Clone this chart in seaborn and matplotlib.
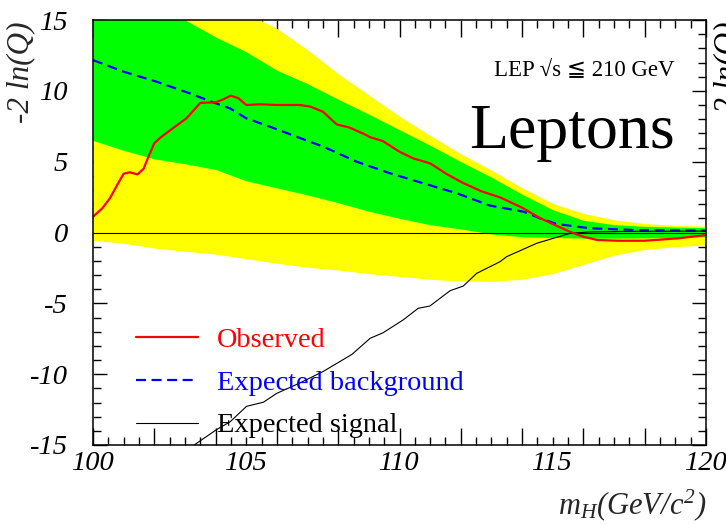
import numpy as np
import pandas as pd
import seaborn as sns
import matplotlib
matplotlib.use("Agg")
import matplotlib.pyplot as plt
from matplotlib.ticker import MultipleLocator, FuncFormatter

# ---------------- data ----------------
mass_band = [100, 101, 102, 103, 104, 105, 106, 107, 108, 109, 110,
             111, 112, 113, 114, 115, 116, 117, 118, 119, 120]
yellow_hi = [19.0, 18.5, 18.0, 17.0, 16.2, 15.5, 14.4, 12.9, 11.2, 9.7, 8.2,
             6.85, 5.55, 4.4, 3.15, 2.05, 1.35, 0.9, 0.63, 0.5, 0.45]
green_hi = [17.5, 17.0, 16.0, 15.0, 13.8, 12.75, 11.45, 10.5, 9.4, 8.35, 7.25,
            6.15, 5.0, 3.9, 2.7, 1.6, 0.86, 0.55, 0.44, 0.38, 0.34]
green_lo = [6.5, 5.8, 5.2, 4.85, 4.45, 3.65, 3.15, 2.65, 2.1, 1.5, 1.0,
            0.55, 0.25, -0.1, -0.3, -0.35, -0.4, -0.4, -0.38, -0.35, -0.3]
yellow_lo = [-0.55, -0.76, -1.1, -1.32, -1.52, -1.85, -2.17, -2.45, -2.65, -2.9, -3.1,
             -3.3, -3.42, -3.45, -3.3, -2.9, -2.25, -1.6, -1.2, -1.0, -0.88]

mass_obs = [100.0, 100.3, 100.55, 100.8, 101.0, 101.2, 101.45, 101.65, 101.8, 102.0,
            102.2, 102.6, 103.05, 103.5, 104.0, 104.2, 104.5, 104.75, 105.0, 105.45,
            106.0, 106.75, 107.1, 107.5, 107.95, 108.35, 108.8, 109.05, 109.45, 110.0,
            110.45, 111.0, 111.55, 112.1, 112.65, 113.3, 114.0, 114.6, 115.0, 115.55,
            116.0, 116.45, 117.1, 118.0, 119.1, 120.0]
observed = [1.12, 1.7, 2.41, 3.4, 4.15, 4.25, 4.1, 4.5, 5.3, 6.3,
            6.7, 7.35, 8.06, 9.15, 9.19, 9.35, 9.66, 9.47, 9.0, 9.05,
            9.0, 9.0, 8.88, 8.53, 7.63, 7.42, 7.0, 6.72, 6.46, 5.7,
            5.23, 4.88, 4.11, 3.47, 2.93, 2.46, 1.75, 1.0, 0.6, 0.06,
            -0.3, -0.53, -0.58, -0.58, -0.41, -0.18]

mass_bkg = [100.0, 101.0, 102.08, 103.16, 103.92, 104.47, 105.0, 105.77, 106.64, 107.51,
            108.6, 109.69, 110.78, 111.87, 112.95, 114.04, 114.68, 115.13, 116.2, 117.85, 120.0]
expected_bkg = [12.17, 11.35, 10.64, 9.82, 9.19, 8.76, 8.06, 7.47, 6.76, 6.06,
                5.0, 4.18, 3.47, 2.77, 1.9, 1.47, 0.92, 0.6, 0.3, 0.16, 0.13]

mass_sig = [102.9, 103.3, 104.04, 104.47, 105.01, 105.56, 105.99, 106.73, 107.51, 108.45,
            109.04, 109.47, 110.12, 110.61, 110.99, 111.65, 112.08, 112.52, 113.28, 113.5,
            114.48, 115.56, 116.2, 117.5, 120.0]
expected_sig = [-15.6, -15.0, -13.9, -13.37, -12.27, -11.98, -11.36, -10.64, -9.81, -8.6,
                -7.47, -7.07, -6.17, -5.35, -5.19, -4.11, -3.78, -2.88, -2.06, -1.7,
                -0.76, -0.06, 0.04, 0.08, 0.1]

x_labels_at = [100, 105, 110, 115, 120]

# ---------------- style ----------------
sns.set_theme(style="ticks")
plt.rcParams["font.family"] = ["Liberation Serif", "DejaVu Serif", "DejaVu Sans"]
plt.rcParams["font.style"] = "italic"
plt.rcParams["mathtext.fontset"] = "custom"
plt.rcParams["mathtext.it"] = "Liberation Serif:italic"
plt.rcParams["mathtext.rm"] = "Liberation Serif:italic"
plt.rcParams["axes.unicode_minus"] = False

W, H = 726, 524
fig = plt.figure(figsize=(W / 100, H / 100), dpi=100)
ax = fig.add_axes([93 / W, 1 - 445 / H, 613 / W, 425 / H])

ax.fill_between(mass_band, yellow_lo, yellow_hi, color="#ffff00", lw=0, zorder=1)
ax.fill_between(mass_band, green_lo, green_hi, color="#00ff00", lw=0, zorder=2)
ax.axhline(0, color="black", lw=0.8, zorder=3)

df_obs = pd.DataFrame({"m": mass_obs, "v": observed})
df_bkg = pd.DataFrame({"m": mass_bkg, "v": expected_bkg})
df_sig = pd.DataFrame({"m": mass_sig, "v": expected_sig})

sns.lineplot(data=df_obs, x="m", y="v", ax=ax, color="#ff0000", lw=1.6,
             errorbar=None, label="Observed", zorder=5)
sns.lineplot(data=df_bkg, x="m", y="v", ax=ax, color="#0000ff", lw=1.6,
             linestyle=(0, (4.5, 2.5)), errorbar=None, label="Expected background", zorder=4)
sns.lineplot(data=df_sig, x="m", y="v", ax=ax, color="black", lw=0.8,
             errorbar=None, label="Expected signal", zorder=4)

ax.set_xlim(100, 120)
ax.set_ylim(-15, 15)

ax.xaxis.set_major_locator(MultipleLocator(2))
ax.xaxis.set_minor_locator(MultipleLocator(0.5))
ax.xaxis.set_major_formatter(FuncFormatter(
    lambda v, p: f"{v:.0f}" if round(v) in x_labels_at and abs(v - round(v)) < 1e-6 else ""))
ax.xaxis.set_minor_formatter(FuncFormatter(
    lambda v, p: f"{v:.0f}" if round(v) in x_labels_at and abs(v - round(v)) < 1e-6 else ""))
ax.yaxis.set_major_locator(MultipleLocator(5))
ax.yaxis.set_minor_locator(MultipleLocator(1))

ax.tick_params(axis="both", which="both", direction="in", top=True, right=True,
               width=1.0, colors="black", labelsize=20.5)
ax.tick_params(axis="x", which="major", length=12, pad=4)
ax.tick_params(axis="x", which="minor", length=6, pad=4)
ax.tick_params(axis="y", which="major", length=10, pad=18)
ax.tick_params(axis="y", which="minor", length=6, pad=18)
for s in ax.spines.values():
    s.set_linewidth(1.1)
    s.set_color("black")
    s.set_zorder(6)

ax.set_xlabel(r"$m_H(GeV/c^2)$", fontsize=22, loc="right")
ax.xaxis.set_label_coords(1.0, -0.10)
ax.set_ylabel("-2 ln(Q)", fontsize=22.5)
ax.yaxis.set_label_coords(-0.095, 0.876)

leg = ax.legend(loc="upper left", bbox_to_anchor=(136 / W, 1 - 327 / H),
                bbox_transform=fig.transFigure, frameon=False,
                prop={"size": 20.4, "style": "normal"},
                handlelength=2.2, handletextpad=0.65, labelspacing=0.6,
                borderpad=0, borderaxespad=0)
for t, c in zip(leg.get_texts(), ["#ff0000", "#0000ff", "black"]):
    t.set_color(c)

ax.text(0.949, 0.88, "LEP √s ≦ 210 GeV", transform=ax.transAxes, ha="right",
        va="center", fontsize=16.5, style="normal", color="black", zorder=7)
ax.text(0.949, 0.699, "Leptons", transform=ax.transAxes, ha="right",
        va="baseline", fontsize=46, style="normal", color="black", zorder=7)

# neighbouring panel's axis title, cut off at the right edge as in the reference
fig.text(742 / W, 1 - 72.5 / H, "-2 ln(Q)", rotation=90, rotation_mode="anchor",
         ha="center", va="bottom", fontsize=22.5, color="black")

fig.savefig("out.png", dpi=100)
